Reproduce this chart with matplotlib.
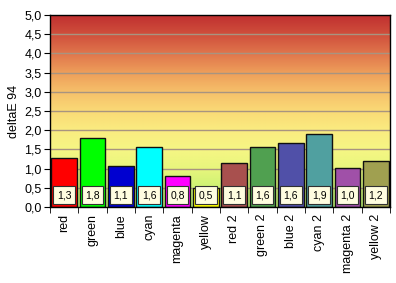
import matplotlib
matplotlib.use("Agg")
import matplotlib.pyplot as plt
import numpy as np
from matplotlib.colors import LinearSegmentedColormap

categories = ["red", "green", "blue", "cyan", "magenta", "yellow",
              "red 2", "green 2", "blue 2", "cyan 2", "magenta 2", "yellow 2"]
values = [1.27, 1.79, 1.06, 1.56, 0.82, 0.49, 1.14, 1.56, 1.66, 1.89, 1.01, 1.19]
labels = ["1,3", "1,8", "1,1", "1,6", "0,8", "0,5", "1,1", "1,6", "1,6", "1,9", "1,0", "1,2"]
bar_colors = ["#ff0000", "#00ff00", "#0000d0", "#00ffff", "#ff00ff", "#ffff00",
              "#a8504e", "#50a050", "#5050a8", "#50a0a0", "#a050a8", "#a0a050"]
yticks = [0.0, 0.5, 1.0, 1.5, 2.0, 2.5, 3.0, 3.5, 4.0, 4.5, 5.0]
ytick_labels = ["0,0", "0,5", "1,0", "1,5", "2,0", "2,5", "3,0", "3,5", "4,0", "4,5", "5,0"]

plt.rcParams['font.family'] = ['Liberation Sans', 'DejaVu Sans']

fig = plt.figure(figsize=(3.96, 2.83), dpi=100)
ax = fig.add_axes([50/396, 1 - 207/283, 340/396, 192/283])

n = len(categories)
x = np.arange(n)

# gradient background
grad_colors = [(0.0, (180/255, 236/255, 110/255)),
               (0.1, (205/255, 242/255, 115/255)),
               (0.2, (232/255, 246/255, 125/255)),
               (0.3, (246/255, 246/255, 132/255)),
               (0.4, (250/255, 236/255, 128/255)),
               (0.5, (250/255, 218/255, 118/255)),
               (0.6, (246/255, 192/255, 106/255)),
               (0.7, (238/255, 158/255, 90/255)),
               (0.8, (224/255, 118/255, 76/255)),
               (0.9, (208/255, 80/255, 60/255)),
               (1.0, (192/255, 48/255, 48/255))]
cmap = LinearSegmentedColormap.from_list("bg", grad_colors)
grad = np.linspace(0, 1, 256).reshape(-1, 1)
ax.imshow(grad, extent=[-0.5, n - 0.5, 0, 5], origin="lower", aspect="auto",
          cmap=cmap, zorder=0)

for yv in yticks[1:-1]:
    ax.axhline(yv, color="#a89480", linewidth=1, zorder=1)

ax.bar(x, values, width=0.9, color=bar_colors, edgecolor="#101010",
       linewidth=1, zorder=2)

for xi, lab in zip(x, labels):
    ax.text(xi, 0.31, lab, ha="center", va="center", fontsize=7.5, zorder=3,
            bbox=dict(boxstyle="square,pad=0.35", facecolor="#fffde0",
                      edgecolor="#303030", linewidth=0.8))

ax.set_xlim(-0.5, n - 0.5)
ax.set_ylim(0, 5)
ax.set_yticks(yticks)
ax.set_yticklabels(ytick_labels, fontsize=9)
ax.set_xticks(x)
ax.set_xticklabels(categories, rotation=90, fontsize=9)
ax.tick_params(axis="x", length=0, pad=5)
ax.set_xticks(np.arange(-0.5, n, 1), minor=True)
ax.tick_params(axis="x", which="minor", length=4, direction="out")
ax.tick_params(axis="y", length=4, direction="out", pad=2)
ax.set_ylabel("deltaE 94", fontsize=9, labelpad=3)
for sp in ax.spines.values():
    sp.set_linewidth(1)
    sp.set_color("black")

fig.savefig("out.png", dpi=100)
